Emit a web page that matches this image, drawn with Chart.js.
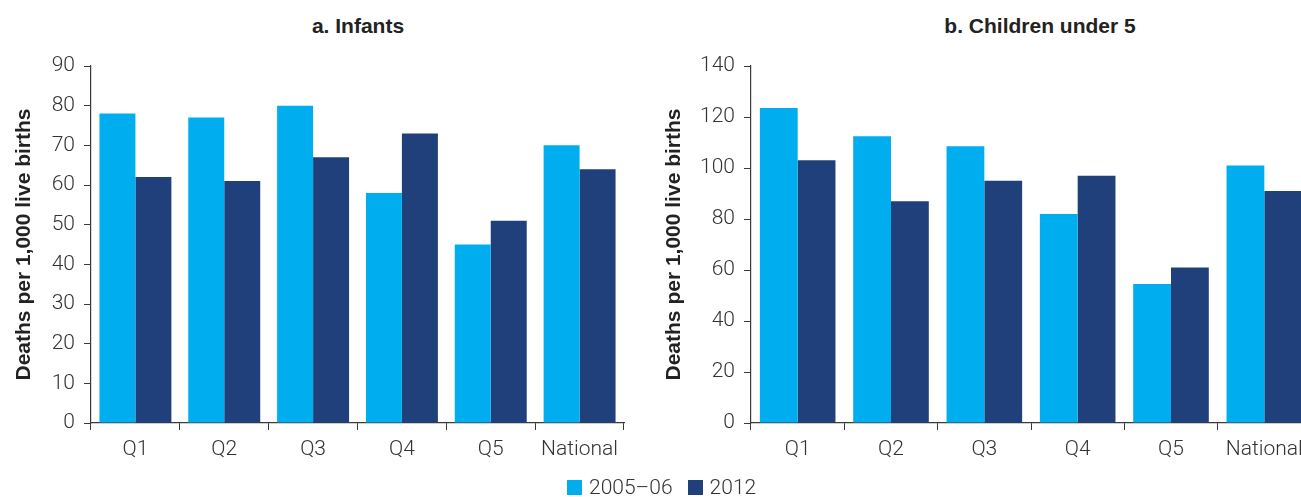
<!DOCTYPE html>
<html>
<head>
<meta charset="utf-8">
<script src="https://cdn.jsdelivr.net/npm/chart.js@4.4.1/dist/chart.umd.min.js"></script>
<style>
    html, body { margin: 0; padding: 0; background: #fff; overflow: hidden; width: 1301px; height: 497px; }
    canvas { position: absolute; top: 0; }
    .panel-title {
        position: absolute; top: 14px; font: bold 21px "Liberation Sans", Arial, sans-serif;
        color: #222; transform: translateX(-50%); white-space: nowrap;
    }
    #legend {
        position: absolute; top: 475px; left: 567px; display: flex; align-items: center;
        font: 300 21px Roboto, "Liberation Sans", Arial, sans-serif; color: #333;
    }
    #legend .box { width: 15px; height: 15px; display: inline-block; margin-right: 7px; }
</style>
</head>
<body>
<div class="panel-title" style="left:358px">a. Infants</div>
<div class="panel-title" style="left:1040px">b. Children under 5</div>
<canvas id="infants" width="640" height="497" style="left:0"></canvas>
<canvas id="under5" width="680" height="497" style="left:650px"></canvas>
<div id="legend"></div>
<script>
// Categories and series
const categories = ['Q1', 'Q2', 'Q3', 'Q4', 'Q5', 'National'];
const seriesNames = ['2005–06', '2012'];
const seriesColors = ['#00adef', '#1f407b'];

const infants2005 = [78, 77, 80, 58, 45, 70];
const infants2012 = [62, 61, 67, 73, 51, 64];

const under5_2005 = [123.5, 112.5, 108.5, 82, 54.5, 101];
const under5_2012 = [103, 87, 95, 97, 61, 91];

const axisColor = '#3a3a3a';
const tickFont = { family: 'Roboto, "Liberation Sans", Arial, sans-serif', size: 21, weight: 300 };

function makeChart(id, d1, d2, yMax, yStep, yWidth, padRight) {
    const ctx = document.getElementById(id).getContext('2d');
    return new Chart(ctx, {
        type: 'bar',
        data: {
            labels: categories,
            datasets: [
                { label: seriesNames[0], data: d1, backgroundColor: seriesColors[0] },
                { label: seriesNames[1], data: d2, backgroundColor: seriesColors[1] }
            ]
        },
        options: {
            responsive: false,
            animation: false,
            devicePixelRatio: 1,
            categoryPercentage: 0.81,
            barPercentage: 1.0,
            layout: { padding: { left: 0, top: 66, right: padRight, bottom: 34 } },
            plugins: {
                legend: { display: false },
                tooltip: { enabled: false }
            },
            scales: {
                x: {
                    afterFit: (scale) => { scale.height = 40; },
                    grid: { display: true, drawOnChartArea: false, drawTicks: true, tickLength: 7, color: axisColor, offset: true },
                    border: { display: true, color: axisColor, width: 1.2 },
                    ticks: { color: '#333', font: tickFont, padding: 7, maxRotation: 0, autoSkip: false }
                },
                y: {
                    min: 0,
                    max: yMax,
                    afterFit: (scale) => { scale.width = yWidth; },
                    grid: { display: true, drawOnChartArea: false, drawTicks: true, tickLength: 7, color: axisColor },
                    border: { display: true, color: axisColor, width: 1.2 },
                    ticks: { stepSize: yStep, color: '#333', font: tickFont, padding: 9 },
                    title: {
                        display: true,
                        text: 'Deaths per 1,000 live births',
                        color: '#222',
                        font: { family: '"Liberation Sans", Arial, sans-serif', size: 21, weight: 'bold' },
                        padding: { top: 12, bottom: 0 }
                    }
                }
            }
        }
    });
}

makeChart('infants', infants2005, infants2012, 90, 10, 91, 16);
makeChart('under5', under5_2005, under5_2012, 140, 20, 101, 19);

// Shared legend
const legend = document.getElementById('legend');
seriesNames.forEach((name, i) => {
    const box = document.createElement('span');
    box.className = 'box';
    box.style.background = seriesColors[i];
    const label = document.createElement('span');
    label.textContent = name;
    label.style.marginRight = i === 0 ? '15px' : '0';
    legend.appendChild(box);
    legend.appendChild(label);
});
</script>
</body>
</html>
